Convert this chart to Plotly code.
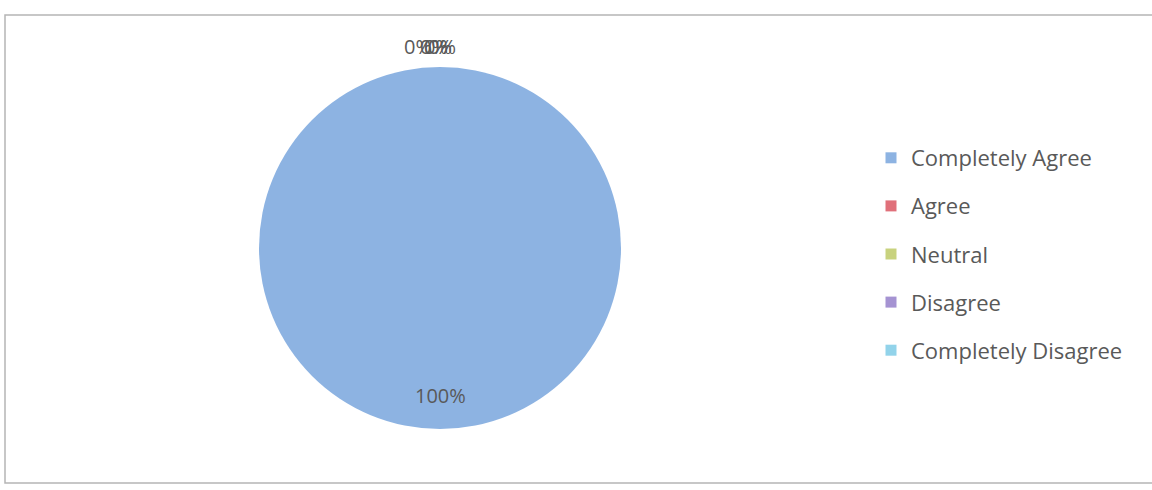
import math
import plotly.graph_objects as go

categories = ["Completely Agree", "Agree", "Neutral", "Disagree", "Completely Disagree"]
values = [100, 0, 0, 0, 0]
colors = ["#8DB3E2", "#E0707A", "#C8D27E", "#A593D2", "#92D3EA"]

W, H = 1152, 490
cx, cy, R = 440, 248, 181

fig = go.Figure()
fig.add_trace(go.Pie(
    labels=categories, values=values, sort=False, direction="clockwise",
    rotation=0, marker=dict(colors=colors, line=dict(width=0)),
    textinfo="none", hoverinfo="label+percent", showlegend=False,
    domain=dict(x=[(cx - R) / W, (cx + R) / W], y=[1 - (cy + R) / H, 1 - (cy - R) / H]),
))

# legend entries as square markers, one group each for spacing
for c, col in zip(categories, colors):
    fig.add_trace(go.Scatter(
        x=[None], y=[None], mode="markers", name=c, legendgroup=c,
        marker=dict(symbol="square", size=11, color=col),
    ))

# data labels computed from values (Excel-style placement)
total = sum(values)
start = 0.0
shifts = [-22, -6, -2, 2]
zi = 0
annotations = []
for v in values:
    frac = v / total
    mid = (start + frac / 2) * 2 * math.pi
    start += frac
    if frac > 0.05:
        rr = 0.815
        xs = 0
    else:
        rr = 1.115
        xs = shifts[zi % len(shifts)]
        zi += 1
    px = cx + rr * R * math.sin(mid)
    py = cy - rr * R * math.cos(mid)
    annotations.append(dict(
        x=px / W, y=1 - py / H, xref="paper", yref="paper",
        xanchor="center", yanchor="middle",
        text=f"{frac * 100:.0f}%", showarrow=False, xshift=xs,
        font=dict(family="Open Sans", size=20, color="#595959"),
    ))

fig.update_layout(
    width=W, height=H, margin=dict(l=0, r=0, t=0, b=0),
    paper_bgcolor="white", plot_bgcolor="white",
    xaxis=dict(visible=False), yaxis=dict(visible=False),
    annotations=annotations,
    legend=dict(x=871 / W, y=1 - 137 / H, xanchor="left", yanchor="top",
                font=dict(family="Open Sans", size=22, color="#595959"),
                traceorder="grouped", tracegroupgap=16.5, itemwidth=30,
                bgcolor="rgba(0,0,0,0)"),
    shapes=[dict(type="rect", xref="paper", yref="paper",
                 x0=5 / W, x1=1.01, y0=1 - 483 / H, y1=1 - 15 / H,
                 line=dict(color="#B5B5B5", width=1.5))],
)

fig.write_html("out.html", config={"displayModeBar": False})

# remove the browser's default body margin so the figure fills the window
with open("out.html", encoding="utf-8") as f:
    html = f.read()
html = html.replace("<body>", '<body style="margin:0;overflow:hidden">', 1)
with open("out.html", "w", encoding="utf-8") as f:
    f.write(html)
